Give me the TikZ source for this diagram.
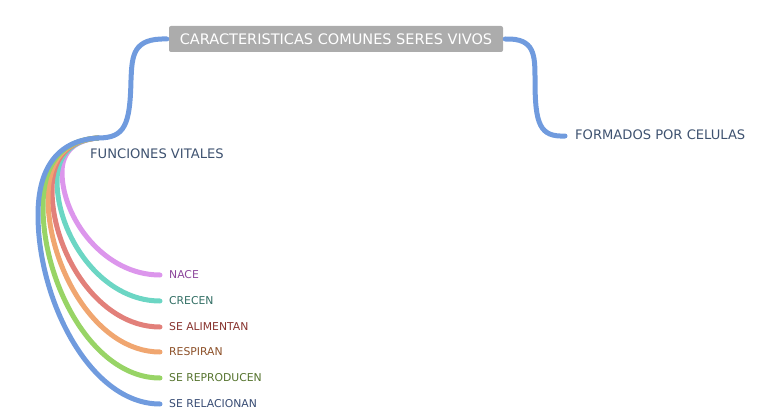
\documentclass[tikz,border=0pt]{standalone}
\usepackage{fontspec}
\setmainfont{DejaVu Sans}
\usetikzlibrary{positioning,calc}

\definecolor{rootgray}{RGB}{172,172,172}
\definecolor{topictext}{RGB}{62,82,112}
\definecolor{linkblue}{RGB}{112,155,222}
\definecolor{nacecol}{RGB}{220,150,236}
\definecolor{crececol}{RGB}{108,214,196}
\definecolor{alimcol}{RGB}{226,128,122}
\definecolor{respcol}{RGB}{240,166,112}
\definecolor{reprocol}{RGB}{152,212,102}
\definecolor{relacol}{RGB}{112,155,222}
\definecolor{nacetext}{RGB}{140,70,155}
\definecolor{crecetext}{RGB}{50,110,100}
\definecolor{alimtext}{RGB}{135,50,45}
\definecolor{resptext}{RGB}{140,80,40}
\definecolor{reprotext}{RGB}{85,115,45}
\definecolor{relatext}{RGB}{55,75,115}

\tikzset{
    rootbox/.style={fill=rootgray, rounded corners=2pt, text=white, minimum width=334pt, minimum height=26pt, inner sep=0pt, font=\fontsize{14.5}{16}\selectfont},
    topic/.style={anchor=west, text=topictext, inner sep=2pt, font=\fontsize{13.1}{15}\selectfont},
    leaf/.style={anchor=west, inner sep=1pt, font=\fontsize{10.8}{12}\selectfont},
    branch/.style={line width=5pt, line cap=round}
}

\begin{document}
\begin{tikzpicture}[x=1pt,y=-1pt]
    \useasboundingbox (0,0) rectangle (760,420);

    % central topic
    \node[rootbox] (root) at (336,39) {CARACTERISTICAS COMUNES SERES VIVOS};

    % first level
    \node[topic] (vitales) at (88,154) {FUNCIONES VITALES};
    \node[topic] (celulas) at (573,135) {FORMADOS POR CELULAS};
    \coordinate (vitin) at (98,138);
    \coordinate (celin) at (565,136);

    % second level
    \node[leaf, text=nacetext] (nace) at (168,275) {NACE};
    \node[leaf, text=crecetext] (crecen) at (168,301) {CRECEN};
    \node[leaf, text=alimtext] (aliment) at (168,327) {SE ALIMENTAN};
    \node[leaf, text=resptext] (respiran) at (168,352) {RESPIRAN};
    \node[leaf, text=reprotext] (reprod) at (168,378) {SE REPRODUCEN};
    \node[leaf, text=relatext] (relac) at (168,404) {SE RELACIONAN};

    % branches of funciones vitales
    \draw[branch, nacecol] (vitin) .. controls (75,140) and (62,152) .. (62,172)
        .. controls (62,218) and (104,275) .. ([xshift=-8pt]nace.west);
    \draw[branch, crececol] (vitin) .. controls (72,140) and (57,155) .. (57,181)
        .. controls (57,235) and (101,301) .. ([xshift=-8pt]crecen.west);
    \draw[branch, alimcol] (vitin) .. controls (69,140) and (52,157) .. (52,190)
        .. controls (52,252) and (98,327) .. ([xshift=-8pt]aliment.west);
    \draw[branch, respcol] (vitin) .. controls (66,140) and (48,159) .. (48,198)
        .. controls (48,267) and (96,352) .. ([xshift=-8pt]respiran.west);
    \draw[branch, reprocol] (vitin) .. controls (63,140) and (43,162) .. (43,207)
        .. controls (43,284) and (93,378) .. ([xshift=-8pt]reprod.west);
    \draw[branch, relacol] (vitin) .. controls (60,140) and (38,165) .. (38,215)
        .. controls (38,300) and (90,404) .. ([xshift=-8pt]relac.west);

    % links from the central topic
    \draw[branch, linkblue] ([xshift=-2pt]root.west) .. controls (133,38) and (132,55) .. (131,80)
        .. controls (130,125) and (125,138) .. (vitin);
    \draw[branch, linkblue] ([xshift=2pt]root.east) .. controls (535,38) and (535,55) .. (535,80)
        .. controls (535,125) and (540,137) .. (celin);
\end{tikzpicture}
\end{document}
